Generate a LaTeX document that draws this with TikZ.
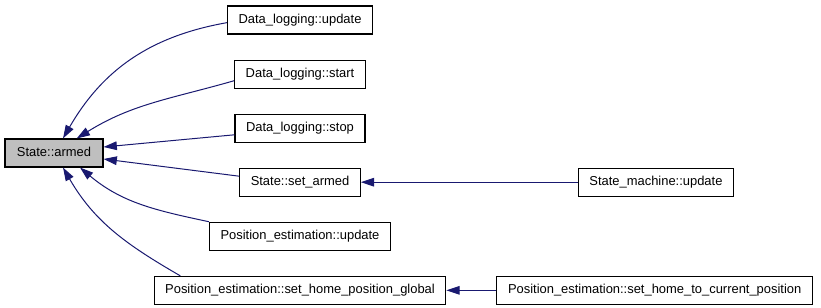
\documentclass[tikz,border=0pt]{standalone}
\usepackage{fontspec}
\setmainfont{Liberation Sans}
\usetikzlibrary{arrows.meta, positioning}
\definecolor{edgeblue}{HTML}{191970}
\tikzset{
    func/.style={rectangle, draw=black, fill=white, line width=0.8pt, minimum height=21pt, inner xsep=8.3pt, inner ysep=0pt, text height=7.2pt, text depth=2.2pt, text centered, font=\fontsize{9.7}{11}\selectfont},
    focus/.style={func, fill=black!25},
    call/.style={-{Triangle[length=10pt, width=6.5pt]}, draw=edgeblue, line width=0.75pt},
}

\begin{document}
\begin{tikzpicture}[x=0.75pt, y=0.75pt, node distance=18.75pt and 37.5pt]
    \useasboundingbox (0,0) rectangle (821,307);

    % Function being called
    \node[focus, minimum width=73.5pt] (armed) at (54,154) {State::armed};

    % Direct callers
    \node[func] (logupdate) at (300,287) {Data\_logging::update};
    \node[func, below=of logupdate] (logstart) {Data\_logging::start};
    \node[func, below=of logstart] (logstop) {Data\_logging::stop};
    \node[func, below=of logstop] (setarmed) {State::set\_armed};
    \node[func, below=of setarmed] (posupdate) {Position\_estimation::update};
    \node[func, below=of posupdate] (sethome) {Position\_estimation::set\_home\_position\_global};

    % Second level callers
    \node[func, right=162.75pt of setarmed] (smupdate) {State\_machine::update};
    \node[func, right=of sethome] (setcurrent) {Position\_estimation::set\_home\_to\_current\_position};

    % Calls
    \draw[call] ([yshift=-2pt]logupdate.west) to[out=190, in=60] ([xshift=6.75pt]armed.north);
    \draw[call] ([yshift=-5pt]logstart.west) to[out=196, in=32] ([xshift=17pt]armed.north);
    \draw[call] ([yshift=-5pt]logstop.west) -- ([yshift=4.5pt]armed.east);
    \draw[call] ([yshift=4.5pt]setarmed.west) -- ([yshift=-4.5pt]armed.east);
    \draw[call] (posupdate.north west) to[out=168, in=320] ([xshift=19.5pt]armed.south);
    \draw[call] ([xshift=20pt]sethome.north west) to[out=150, in=300] ([xshift=6.75pt]armed.south);
    \draw[call] (smupdate.west) -- (setarmed.east);
    \draw[call] (setcurrent.west) -- (sethome.east);
\end{tikzpicture}
\end{document}
